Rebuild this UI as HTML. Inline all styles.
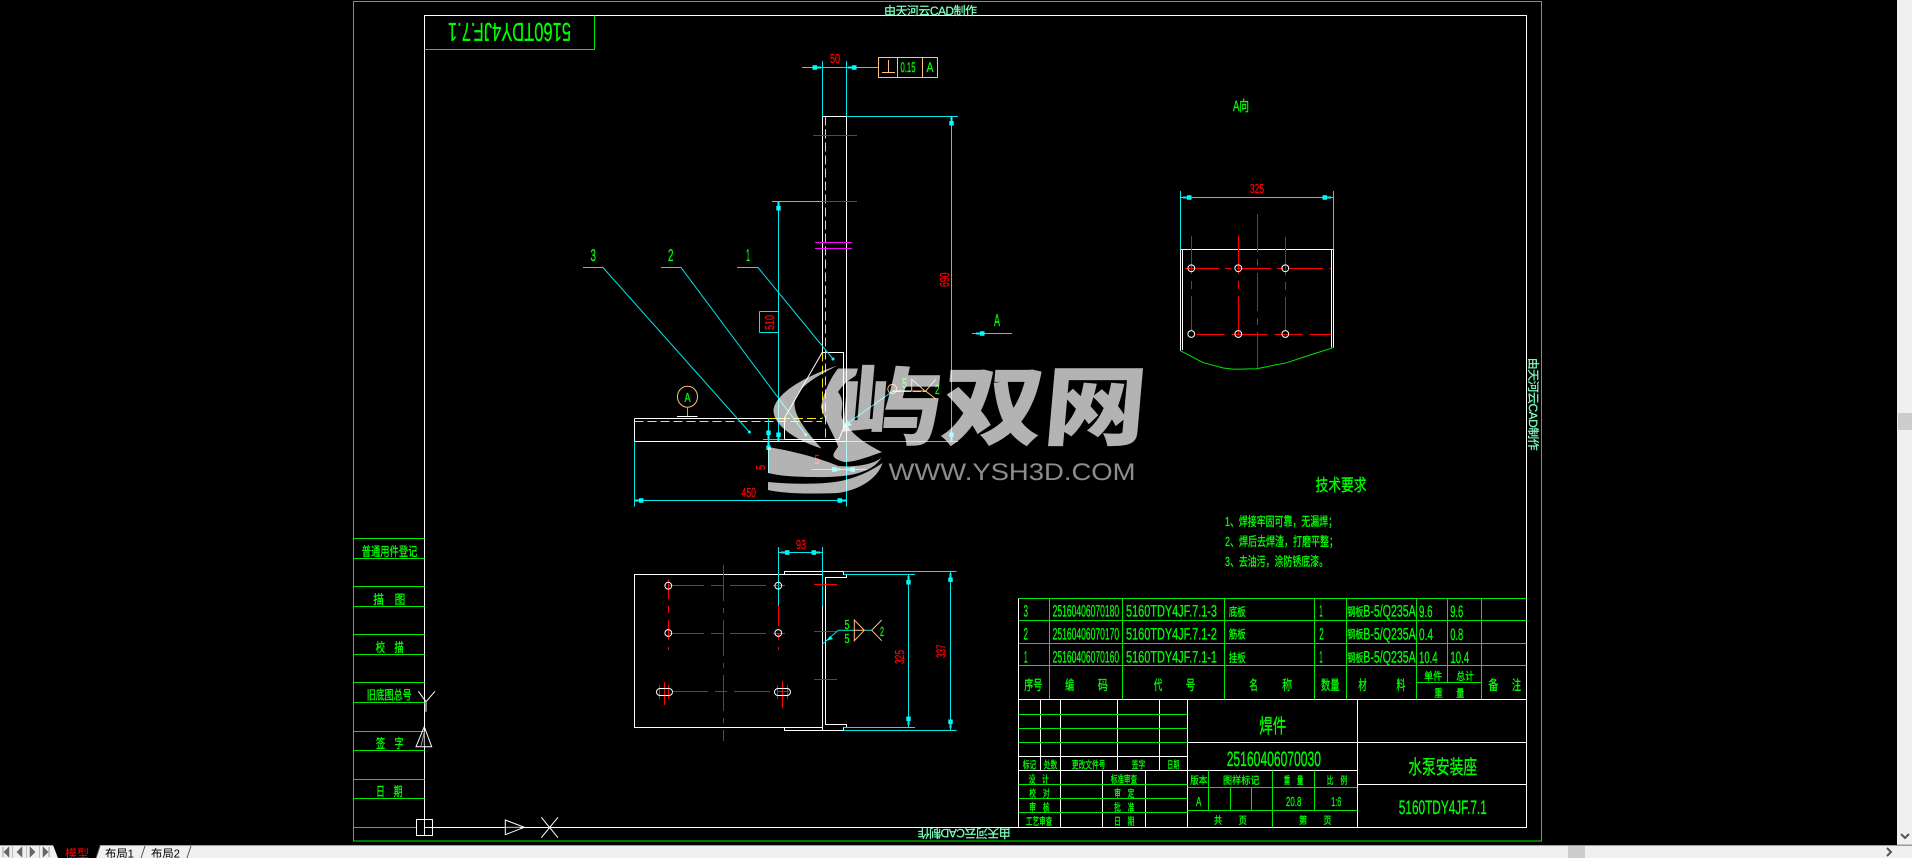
<!DOCTYPE html>
<html lang="zh"><head><meta charset="utf-8"><title>焊件 5160TDY4JF.7.1</title>
<style>
html,body{margin:0;padding:0;background:#000;width:1912px;height:858px;overflow:hidden}
svg{display:block;position:absolute;left:0;top:0}
text{font-family:"Liberation Sans","Noto Sans CJK SC","WenQuanYi Zen Hei",sans-serif;text-rendering:geometricPrecision}
.g{fill:#00ff00;stroke:#00ff00;stroke-width:.3}.r{fill:#ff0000;stroke:#ff0000;stroke-width:.3}.m{fill:#7fffbf;stroke:#7fffbf;stroke-width:.25}
.W{stroke:#fff;fill:none}.G{stroke:#00e800;fill:none}.C{stroke:#00e8e8;fill:none}.R{stroke:#f00;fill:none}.Y{stroke:#ffe800;fill:none}.M{stroke:#f0f;fill:none}.O{stroke:#ffbf7f;fill:none}
.a{fill:#00ffff}
</style></head><body>
<svg width="1912" height="858" viewBox="0 0 1912 858" xmlns="http://www.w3.org/2000/svg">
<defs><path id="ar" d="M0 -1H4V-2.2H8.5V2.2H4V1H0Z"/></defs>
<rect width="1912" height="858" fill="#000"/>
<!-- frames -->
<g shape-rendering="crispEdges">
<rect class="G" x="353.5" y="1.5" width="1188" height="839.5"/>
<path class="W" d="M424.5 827.5V15.5H1526.5V827.5H424.5"/>
<path class="G" d="M424.5 49.5H594.5V15.5"/>
<path class="G" d="M353.5 538.5H424.5M353.5 558.5H424.5M353.5 586.5H424.5M353.5 606.5H424.5M353.5 634.5H424.5M353.5 654.5H424.5M353.5 682.5H424.5M353.5 702.5H424.5M353.5 731.5H424.5M353.5 750.5H424.5M353.5 779.5H424.5M353.5 798.5H424.5M353.5 827.5H416"/>
<!-- parts table -->
<path class="G" d="M1018.5 598.5H1526.5M1018.5 620.5H1526.5M1018.5 643.5H1526.5M1018.5 665.5H1526.5M1416.5 682.5H1481.5"/>
<path class="G" d="M1049.5 598.5V699.5M1122.5 598.5V699.5M1224.5 598.5V699.5M1314.5 598.5V699.5M1346.5 598.5V699.5M1416.5 598.5V699.5M1447.5 598.5V682.5M1481.5 598.5V699.5"/>
<path class="W" d="M1018.5 598.5V827.5M1018.5 699.5H1526.5"/>
<!-- title block -->
<path class="W" d="M1040.5 699.5V770.5M1060.5 699.5V827.5M1117.5 699.5V770.5M1159.5 699.5V770.5M1187.5 699.5V827.5M1357.5 699.5V827.5M1102.5 770.5V827.5M1145.5 770.5V827.5"/>
<path class="W" d="M1018.5 756.5H1187.5M1018.5 770.5H1357.5M1187.5 742.5H1526.5M1357.5 784.5H1526.5"/>
<path class="G" d="M1018.5 714.5H1187.5M1018.5 728.5H1187.5M1018.5 742.5H1187.5M1018.5 784.5H1187.5M1018.5 798.5H1187.5M1018.5 812.5H1187.5M1187.5 787.5H1357.5M1187.5 810.5H1357.5M1208.5 770.5V810.5M1230.5 787.5V810.5M1251.5 787.5V810.5M1272.5 770.5V827.5M1314.5 770.5V810.5"/>
<!-- corner square -->
<rect class="W" x="416.5" y="819.5" width="16" height="16"/>
<path class="W" d="M424.5 819.5V835.5"/>
</g>
<path class="W" d="M418.3 691.3L426 701.7L435 691.3M426 701.7V711.7M424.3 726.7L416 746.7H431.7Z"/>
<path d="M424.3 732V746M421 746L424 733" stroke="#999" fill="none"/>
<path class="W" d="M505.3 820V834.7L524.3 827.3Z M541.3 817.3L558 837.7M558 817.3L541.3 837.7"/>
<path d="M506 827.3H520" stroke="#999"/>

<!-- elevation view -->
<g shape-rendering="crispEdges">
<path class="W" d="M822.5 116.5V352.5M846.5 116.5V441.5M822.5 116.5H846.5"/>
<path class="W" d="M634.5 418.5H784.5M634.5 441.5H846.5M634.5 418.5V441.5"/>
<path class="W" d="M822.5 352.5H843.5V428M784.5 418.5V439.5H839.5"/>
<path class="Y" stroke-dasharray="9 4" d="M825.5 116.5V441"/>
<path class="Y" stroke-dasharray="9 4" d="M822.5 352.5V418.5"/>
<path class="Y" stroke-dasharray="9 4" d="M634.5 421.5H822"/>
<path class="Y" stroke-dasharray="9 4" d="M768 418.5H822"/>
<path class="R" d="M813 135.5H857M813 201.5H857"/>
<path class="M" d="M815 242.5H852M815 248.5H852"/>
<path class="C" d="M802 67.5H878.5M822.5 61V116.5M846.5 61V116.5M846.5 116.5H958M951.5 116.5V441.5M772 201.5H822.5M778.5 201.5V441.5M759.5 311.5H778.5M759.5 332.5H778.5M759.5 311.5V332.5"/>
<path class="C" d="M846.5 441.5H958M846.5 441.5V506.5M634.5 441.5V506.5M634.5 500.5H846.5M763 439.5H784.5M768.5 418.5V473M811.5 469.5H867M972 333.5H1012"/>
</g>
<path class="W" d="M822.3 352.3L784.3 418.3M843.5 428L839 439.3"/>
<g class="a">
<use href="#ar" transform="translate(821 67.5) rotate(180)"/><use href="#ar" transform="translate(848 67.5)"/>
<use href="#ar" transform="translate(951.5 117) rotate(90)"/><use href="#ar" transform="translate(951.5 441) rotate(-90)"/>
<use href="#ar" transform="translate(778.5 202) rotate(90)"/><use href="#ar" transform="translate(778.5 441) rotate(-90)"/>
<use href="#ar" transform="translate(768.5 439) rotate(-90)"/><use href="#ar" transform="translate(768.5 441.5) rotate(90)"/>
<use href="#ar" transform="translate(635 500.5)"/><use href="#ar" transform="translate(846 500.5) rotate(180)"/>
<use href="#ar" transform="translate(840.5 469.5) rotate(180)"/><use href="#ar" transform="translate(846.5 469.5)"/>
<use href="#ar" transform="translate(976 333.5)"/>
<use href="#ar" transform="translate(781 552.5)"/><use href="#ar" transform="translate(820 552.5) rotate(180)"/>
<use href="#ar" transform="translate(908.5 576) rotate(90)"/><use href="#ar" transform="translate(908.5 725) rotate(-90)"/>
<use href="#ar" transform="translate(950.5 573.5) rotate(90)"/><use href="#ar" transform="translate(950.5 728) rotate(-90)"/>
<use href="#ar" transform="translate(1183 197.5)"/><use href="#ar" transform="translate(1331 197.5) rotate(180)"/>
</g>
<!-- leaders -->
<g class="C">
<path d="M583 267.5H603L749.4 432M661 267.5H681L805.7 434.7M737 267.5H758L833 359"/>
<path d="M893 391L848 423"/>
<path d="M893 391H926" stroke="#fff"/>
</g>
<g class="a"><circle cx="749.4" cy="432" r="1.5"/><circle cx="805.7" cy="434.7" r="1.5"/><circle cx="833" cy="359" r="1.5"/>
<path d="M843.5 428L847 420L852 425Z"/></g>
<!-- balloon and weld symbol -->
<ellipse class="O" cx="687.5" cy="396.7" rx="10" ry="10.5"/>
<path class="C" d="M687.5 407V416" shape-rendering="crispEdges"/>
<path class="W" d="M677 416.5H697.5" shape-rendering="crispEdges"/>
<circle class="O" cx="892.3" cy="389" r="4.5"/>
<path class="O" d="M911.7 379.3V391H925ZM935.7 379.3L925.7 391L935.7 399M911.7 379.3L925 391"/>
<path class="Y" d="M893 391.5H926" stroke-dasharray="8 2"/>

<!-- plan view -->
<g shape-rendering="crispEdges">
<path class="W" d="M822.5 574.5H634.5V727.5H822.5M822.5 606V730.5"/>
<path class="W" d="M784.5 574.5V571.5H843.5V574.5H846.5V577.5H825.5V724.5H846.5V727.5H843.5V730.5H784.5V727.5"/>
<path class="C" d="M778.5 547V606.5M822.5 547V606.5M778.5 552.5H822.5M843.5 571.5H956.5M843.5 574.5H915M843.5 727.5H915M843.5 730.5H956.5M908.5 574.5V727.5M950.5 571.5V730.5"/>
<path class="R" stroke-dasharray="36 7 5 7" d="M723.5 565V741"/>
<path class="R" stroke-dasharray="36 7 12 7" d="M668 585.5H789"/>
<path class="R" stroke-dasharray="36 7 12 7" d="M668 633.5H785"/>
<path class="R" stroke-dasharray="36 7 12 7" d="M672 691.5H793"/>
<path class="R" stroke-dasharray="20 7 7 7" d="M668.5 579V650"/>
<path class="R" stroke-dasharray="20 7 7 7" d="M778.5 606V650"/>
<path class="R" d="M664.5 682V705M659.5 685V699M668.5 685V699M782.5 681V708M777.5 685V699M787.5 685V699M814 584.5H837M814 631.5H837M814 679.5H837"/>
</g>
<g class="W">
<circle cx="668.3" cy="585.7" r="3.4"/><circle cx="778.3" cy="585.7" r="3.4"/><circle cx="668.3" cy="633" r="3.4"/><circle cx="778.3" cy="633" r="3.4"/>
<rect x="656.5" y="688.5" width="16" height="7" rx="3.5"/><rect x="774.5" y="688.5" width="16" height="7" rx="3.5"/>
</g>
<path class="C" d="M822.3 644.3L838.3 630.3H854M864.3 630.3H871.7"/>
<path class="a" d="M826 641L830 636L833 639Z"/>
<path class="O" d="M854.3 620V640.7L864.3 630.3ZM854.3 630.3H864.3M881.7 620L871.7 630.3L881.7 640.7"/>

<!-- A view -->
<g shape-rendering="crispEdges">
<path class="W" d="M1180.5 249.5H1333.5M1180.5 249.5V350.5M1182.5 249.5V350M1331.5 249.5V347.5M1333.5 249.5V347.5"/>
<path class="C" d="M1180.5 191V249.5M1333.5 191V249.5M1180.5 197.5H1333.5"/>
<path class="R" stroke-dasharray="38 7 7 7" d="M1257.5 214V369"/>
<path class="R" stroke-dasharray="38 7 8 7" d="M1191.5 236V330"/>
<path class="R" stroke-dasharray="38 7 8 7" d="M1238.5 236V336"/>
<path class="R" stroke-dasharray="38 7 8 7" d="M1285.5 237V330"/>
<path class="R" stroke-dasharray="34 6 6 6" d="M1185 268.5H1331"/>
<path class="R" stroke-dasharray="28 7 36 7" d="M1196.7 334.5H1331"/>
</g>
<path class="G" d="M1180.3 350.7L1203.3 362.7L1223.3 368L1234 369.3L1256.7 368.7L1286.7 362.7L1310 355L1333.3 347.7"/>
<g class="W"><circle cx="1191.3" cy="268.3" r="3.4"/><circle cx="1238.3" cy="268.3" r="3.4"/><circle cx="1285.3" cy="268.3" r="3.4"/><circle cx="1191.3" cy="334" r="3.4"/><circle cx="1238.3" cy="334" r="3.4"/><circle cx="1285.3" cy="334" r="3.4"/></g>

<!-- tolerance box -->
<g shape-rendering="crispEdges"><rect class="O" x="878.5" y="57.5" width="59" height="20"/><path class="O" d="M897.5 57.5V77.5M922.5 57.5V77.5M882 72.5H895M888.5 60V72.5"/></g>

<!-- red dims -->
<g class="r" font-size="13">
<text x="830" y="63" textLength="10" lengthAdjust="spacingAndGlyphs">50</text>
<text x="741.5" y="497" textLength="14.5" lengthAdjust="spacingAndGlyphs">450</text>
<text x="796" y="549" textLength="10" lengthAdjust="spacingAndGlyphs">93</text>
<text x="1250" y="193" textLength="14" lengthAdjust="spacingAndGlyphs">325</text>
<text x="814.5" y="464" textLength="5" lengthAdjust="spacingAndGlyphs">5</text>
<text transform="translate(949 287) rotate(-90)" textLength="14.5" lengthAdjust="spacingAndGlyphs">690</text>
<text transform="translate(774 330) rotate(-90)" textLength="15" lengthAdjust="spacingAndGlyphs">510</text>
<text transform="translate(765 470) rotate(-90)" textLength="5" lengthAdjust="spacingAndGlyphs">5</text>
<text transform="translate(904 664) rotate(-90)" textLength="14" lengthAdjust="spacingAndGlyphs">325</text>
<text transform="translate(945.5 658) rotate(-90)" textLength="13.5" lengthAdjust="spacingAndGlyphs">337</text>
</g>

<!-- green labels -->
<g class="g" font-size="17">
<text x="590.5" y="261" textLength="5.5" lengthAdjust="spacingAndGlyphs">3</text>
<text x="668" y="261" textLength="5.5" lengthAdjust="spacingAndGlyphs">2</text>
<text x="746" y="261" textLength="4" lengthAdjust="spacingAndGlyphs">1</text>
<text x="994" y="326" textLength="6" lengthAdjust="spacingAndGlyphs">A</text>
<text x="684.5" y="402" font-size="13" textLength="6" lengthAdjust="spacingAndGlyphs">A</text>
<text x="902" y="388" font-size="14" textLength="5" lengthAdjust="spacingAndGlyphs">5</text>
<text x="935" y="394" font-size="13" textLength="4.5" lengthAdjust="spacingAndGlyphs">2</text>
<text x="844.5" y="629" font-size="13" textLength="5" lengthAdjust="spacingAndGlyphs">5</text>
<text x="844.5" y="643" font-size="13" textLength="5" lengthAdjust="spacingAndGlyphs">5</text>
<text x="880" y="636" font-size="13" textLength="4" lengthAdjust="spacingAndGlyphs">2</text>
<text x="900.5" y="72" font-size="14" textLength="15" lengthAdjust="spacingAndGlyphs">0.15</text>
<text x="926.5" y="72" font-size="14" textLength="7" lengthAdjust="spacingAndGlyphs">A</text>
<text x="1233" y="111" font-size="15" textLength="16" lengthAdjust="spacingAndGlyphs">A向</text>
<text transform="rotate(180 509.5 32.5)" x="448" y="42" font-size="26" textLength="123" lengthAdjust="spacingAndGlyphs">5160TDY4JF.7.1</text>
<text x="1315.5" y="491" font-size="17" textLength="51" lengthAdjust="spacingAndGlyphs">技术要求</text>
<text x="1225" y="526" font-size="13" textLength="112" lengthAdjust="spacingAndGlyphs">1、焊接牢固可靠，无漏焊；</text>
<text x="1225" y="546" font-size="13" textLength="113" lengthAdjust="spacingAndGlyphs">2、焊后去焊渣，打磨平整；</text>
<text x="1225" y="566" font-size="13" textLength="103" lengthAdjust="spacingAndGlyphs">3、去油污，涂防锈底漆。</text>
</g>

<!-- mint edge text -->
<g class="m" font-size="12">
<text x="884" y="15" textLength="93" lengthAdjust="spacing">由天河云CAD制作</text>
<text transform="rotate(180 964.2 834.3)" x="917.7" y="839.5" textLength="93" lengthAdjust="spacing">由天河云CAD制作</text>
<text transform="translate(1529 357.7) rotate(90)" textLength="93" lengthAdjust="spacing">由天河云CAD制作</text>
</g>

<!-- left column text -->
<g class="g" font-size="13">
<text x="361.7" y="556" textLength="55.7" lengthAdjust="spacingAndGlyphs">普通用件登记</text>
<text x="373.3" y="604" textLength="32" lengthAdjust="spacingAndGlyphs">描　图</text>
<text x="375.7" y="652" textLength="28" lengthAdjust="spacingAndGlyphs">校　描</text>
<text x="366.7" y="699.5" textLength="45" lengthAdjust="spacingAndGlyphs">旧底图总号</text>
<text x="376" y="748" textLength="27.5" lengthAdjust="spacingAndGlyphs">签　字</text>
<text x="376" y="796" textLength="26.5" lengthAdjust="spacingAndGlyphs">日　期</text>
</g>

<!-- parts table text -->
<g class="g" font-size="16.5">
<text x="1023.5" y="616.7" textLength="4.5" lengthAdjust="spacingAndGlyphs">3</text>
<text x="1023.5" y="639.3" textLength="4.5" lengthAdjust="spacingAndGlyphs">2</text>
<text x="1024" y="662.7" textLength="3.5" lengthAdjust="spacingAndGlyphs">1</text>
<text x="1052.6" y="616.7" textLength="66.6" lengthAdjust="spacingAndGlyphs">25160406070180</text>
<text x="1052.6" y="639.3" textLength="66.6" lengthAdjust="spacingAndGlyphs">25160406070170</text>
<text x="1052.6" y="662.7" textLength="66.6" lengthAdjust="spacingAndGlyphs">25160406070160</text>
<text x="1126" y="616.7" textLength="91" lengthAdjust="spacingAndGlyphs">5160TDY4JF.7.1-3</text>
<text x="1126" y="639.3" textLength="91" lengthAdjust="spacingAndGlyphs">5160TDY4JF.7.1-2</text>
<text x="1126" y="662.7" textLength="91" lengthAdjust="spacingAndGlyphs">5160TDY4JF.7.1-1</text>
<text x="1319.3" y="616.7" textLength="3.5" lengthAdjust="spacingAndGlyphs">1</text>
<text x="1319.3" y="639.3" textLength="4.5" lengthAdjust="spacingAndGlyphs">2</text>
<text x="1319.3" y="662.7" textLength="3.5" lengthAdjust="spacingAndGlyphs">1</text>
<text x="1363.3" y="616.7" textLength="52.4" lengthAdjust="spacingAndGlyphs">B-5/Q235A</text>
<text x="1363.3" y="639.3" textLength="52.4" lengthAdjust="spacingAndGlyphs">B-5/Q235A</text>
<text x="1363.3" y="662.7" textLength="52.4" lengthAdjust="spacingAndGlyphs">B-5/Q235A</text>
<text x="1419" y="617" textLength="13.5" lengthAdjust="spacingAndGlyphs">9.6</text>
<text x="1450.2" y="617" textLength="13" lengthAdjust="spacingAndGlyphs">9.6</text>
<text x="1419" y="640" textLength="14" lengthAdjust="spacingAndGlyphs">0.4</text>
<text x="1450.2" y="640" textLength="13" lengthAdjust="spacingAndGlyphs">0.8</text>
<text x="1419" y="663" textLength="18.6" lengthAdjust="spacingAndGlyphs">10.4</text>
<text x="1450.2" y="663" textLength="19" lengthAdjust="spacingAndGlyphs">10.4</text>
</g>
<g class="g" font-size="12">
<text x="1228.7" y="616" textLength="17" lengthAdjust="spacingAndGlyphs">底板</text>
<text x="1228.7" y="638.5" textLength="17" lengthAdjust="spacingAndGlyphs">筋板</text>
<text x="1228.7" y="662" textLength="17" lengthAdjust="spacingAndGlyphs">挂板</text>
<text x="1347.4" y="616" textLength="16" lengthAdjust="spacingAndGlyphs">钢板</text>
<text x="1347.4" y="638.5" textLength="16" lengthAdjust="spacingAndGlyphs">钢板</text>
<text x="1347.4" y="662" textLength="16" lengthAdjust="spacingAndGlyphs">钢板</text>
</g>
<g class="g" font-size="14">
<text x="1024.2" y="690" textLength="18" lengthAdjust="spacingAndGlyphs">序号</text>
<text x="1065.1" y="690" textLength="9" lengthAdjust="spacingAndGlyphs">编</text>
<text x="1097.9" y="690" textLength="10" lengthAdjust="spacingAndGlyphs">码</text>
<text x="1153.7" y="690" textLength="8.5" lengthAdjust="spacingAndGlyphs">代</text>
<text x="1185.8" y="690" textLength="9.5" lengthAdjust="spacingAndGlyphs">号</text>
<text x="1249.4" y="690" textLength="8.5" lengthAdjust="spacingAndGlyphs">名</text>
<text x="1282.1" y="690" textLength="10" lengthAdjust="spacingAndGlyphs">称</text>
<text x="1321" y="690" textLength="18.6" lengthAdjust="spacingAndGlyphs">数量</text>
<text x="1358.2" y="690" textLength="8.5" lengthAdjust="spacingAndGlyphs">材</text>
<text x="1396.4" y="690" textLength="9" lengthAdjust="spacingAndGlyphs">料</text>
<text x="1488.4" y="690" textLength="10" lengthAdjust="spacingAndGlyphs">备</text>
<text x="1512" y="690" textLength="9" lengthAdjust="spacingAndGlyphs">注</text>
</g>
<g class="g" font-size="11">
<text x="1424.1" y="680" textLength="18" lengthAdjust="spacingAndGlyphs">单件</text>
<text x="1456.3" y="680" textLength="17.6" lengthAdjust="spacingAndGlyphs">总计</text>
<text x="1434.3" y="697" textLength="8.5" lengthAdjust="spacingAndGlyphs">重</text>
<text x="1456.3" y="697" textLength="8" lengthAdjust="spacingAndGlyphs">量</text>
</g>

<!-- title block text -->
<g class="g" font-size="10.5">
<text x="1022.8" y="768.5" textLength="13.5" lengthAdjust="spacingAndGlyphs">标记</text>
<text x="1043.8" y="768.5" textLength="13.5" lengthAdjust="spacingAndGlyphs">处数</text>
<text x="1071.9" y="768.5" textLength="33.5" lengthAdjust="spacingAndGlyphs">更改文件号</text>
<text x="1131.7" y="768.5" textLength="13.5" lengthAdjust="spacingAndGlyphs">签字</text>
<text x="1167.2" y="768.5" textLength="12" lengthAdjust="spacingAndGlyphs">日期</text>
<text x="1028.6" y="783" textLength="20.3" lengthAdjust="spacingAndGlyphs">设　计</text>
<text x="1029.3" y="797" textLength="20.3" lengthAdjust="spacingAndGlyphs">校　对</text>
<text x="1029.3" y="811" textLength="20.3" lengthAdjust="spacingAndGlyphs">审　核</text>
<text x="1025.9" y="825" textLength="26.4" lengthAdjust="spacingAndGlyphs">工艺审查</text>
<text x="1110.7" y="783" textLength="26.4" lengthAdjust="spacingAndGlyphs">标准审查</text>
<text x="1114.1" y="797" textLength="20.3" lengthAdjust="spacingAndGlyphs">审　定</text>
<text x="1114.1" y="811" textLength="20.3" lengthAdjust="spacingAndGlyphs">批　准</text>
<text x="1114.1" y="825" textLength="20.3" lengthAdjust="spacingAndGlyphs">日　期</text>
<text x="1190.2" y="784" textLength="17" lengthAdjust="spacingAndGlyphs">版本</text>
<text x="1223" y="784" textLength="36.5" lengthAdjust="spacingAndGlyphs">图样标记</text>
<text x="1283.8" y="784" textLength="19.6" lengthAdjust="spacingAndGlyphs">重　量</text>
<text x="1326.8" y="784" textLength="20.3" lengthAdjust="spacingAndGlyphs">比　例</text>
<text x="1213.9" y="824" textLength="33" lengthAdjust="spacingAndGlyphs">共　　页</text>
<text x="1299" y="824" textLength="32.5" lengthAdjust="spacingAndGlyphs">第　　页</text>
<text x="1196" y="806" font-size="13" textLength="5.4" lengthAdjust="spacingAndGlyphs">A</text>
<text x="1285.9" y="806" font-size="13" textLength="15.6" lengthAdjust="spacingAndGlyphs">20.8</text>
<text x="1331.2" y="806" font-size="13" textLength="10" lengthAdjust="spacingAndGlyphs">1:6</text>
<text x="1259.2" y="733" font-size="20" textLength="27" lengthAdjust="spacingAndGlyphs">焊件</text>
<text x="1226.7" y="766" font-size="20.8" textLength="94.3" lengthAdjust="spacingAndGlyphs">25160406070030</text>
<text x="1408.2" y="774" font-size="20" textLength="69" lengthAdjust="spacingAndGlyphs">水泵安装座</text>
<text x="1398.8" y="814" font-size="19.5" textLength="88" lengthAdjust="spacingAndGlyphs">5160TDY4JF.7.1</text>
</g>

<!-- watermark -->
<g fill="#fff" fill-opacity=".7">
<path d="M837.5 365.5C800 378 775 395 773.5 410C773 425 795 440 821.5 448.5C805 430 794 415 794.5 403C796 388 815 377 837.5 365.5Z"/>
<path d="M858 368.5H838C829 380 823 395 821 407C825 422 836 438 838 447C832 455 830 458 844 462C855 462 865 458 882 452C868 445 852 436 842 418C840 410 846 402 838 392C846 380 855 377 856 375Z"/>
<path d="M768 447C800 452 830 462 838 466C860 468 880 462 882 456C875 472 850 478 815 477C795 477 780 476 768 473Z"/>
<path d="M768 482C800 485 830 484 845 480C865 475 878 466 882.5 463C878 478 860 490 838 493C815 494 785 494 768 490Z"/>
<g transform="translate(837 438) skewX(-5)">
<text x="0" y="0" font-size="87" font-weight="900" textLength="307" lengthAdjust="spacingAndGlyphs" style="font-family:'Noto Sans CJK SC',sans-serif">屿双网</text>
</g>
<text x="888.5" y="480" font-size="24" fill-opacity=".55" textLength="247" lengthAdjust="spacingAndGlyphs">WWW.YSH3D.COM</text>
</g>

<!-- chrome -->
<g shape-rendering="crispEdges">
<rect x="1897" y="0" width="15" height="845" fill="#f0f0f0"/>
<rect x="1898" y="413" width="14" height="17" fill="#cdcdcd"/>
<rect x="0" y="845" width="1912" height="13" fill="#f0f0f0"/>
<rect x="0" y="845" width="1912" height="1" fill="#a0a0a0"/>
<rect x="1568" y="846" width="17" height="12" fill="#cdcdcd"/>
<path d="M1897 845H1912" stroke="#999"/>
<path d="M12.5 846V858M26.5 846V858M39.5 846V858" stroke="#bbb"/>
</g>
<path d="M1901 834L1905 838L1909 834M1887 848L1891 852L1887 856" fill="none" stroke="#555" stroke-width="2"/>
<path d="M4 852L9 847V857ZM3 847V857M17 852L22 847V857ZM30 847L35 852L30 857ZM43 847L48 852L43 857ZM49 847V857" fill="#666" stroke="#666" stroke-width=".6"/>
<path d="M53 845H100L96 858H58Z" fill="#000"/>
<g font-size="11.5" style="font-family:'Noto Sans CJK SC',sans-serif">
<text x="65" y="857.5" fill="#f00" textLength="24" lengthAdjust="spacingAndGlyphs">模型</text>
<text x="105" y="857.5" fill="#000" textLength="29" lengthAdjust="spacingAndGlyphs">布局1</text>
<text x="151" y="857.5" fill="#000" textLength="29" lengthAdjust="spacingAndGlyphs">布局2</text>
</g>
<path d="M100 846L96 858M145 846L141 858M191 846L187 858" stroke="#555" fill="none"/>
</svg>
</body></html>
